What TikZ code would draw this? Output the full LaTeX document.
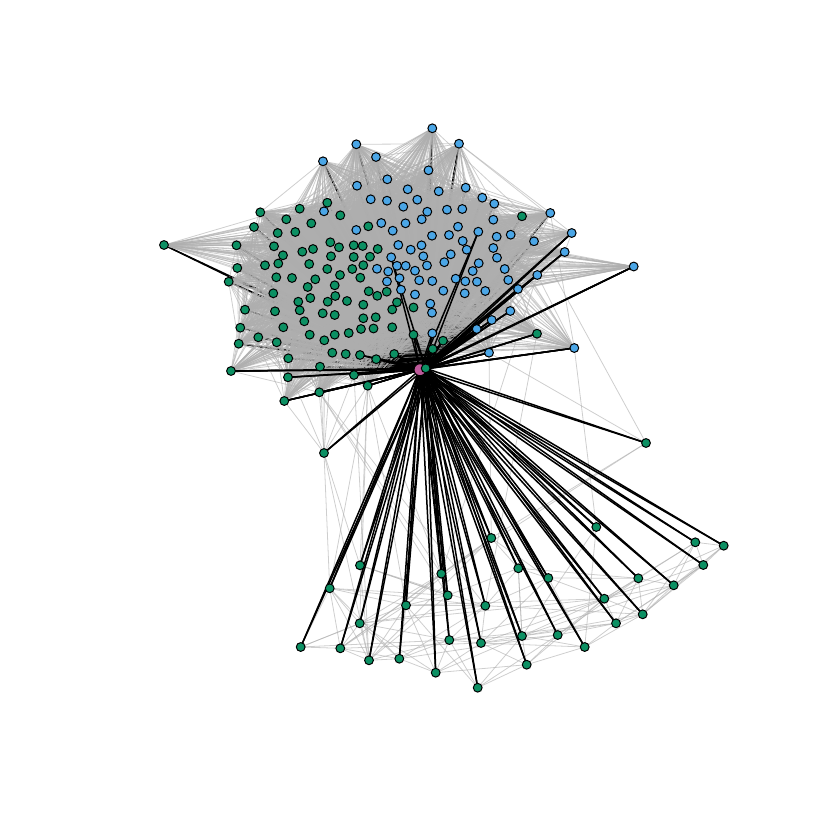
\documentclass[tikz,border=0pt]{standalone}
\usetikzlibrary{backgrounds}
\definecolor{nb}{HTML}{4BA6E6}
\definecolor{ng}{HTML}{0C9063}
\definecolor{nm}{HTML}{BD5A9A}
\definecolor{eg}{HTML}{AEAEAE}
\tikzset{
  B/.style={circle,draw=black,line width=1pt,fill=nb,minimum size=8.8pt,inner sep=0pt},
  G/.style={circle,draw=black,line width=1pt,fill=ng,minimum size=8.8pt,inner sep=0pt},
  M/.style={circle,draw=black,line width=1pt,fill=nm,minimum size=12pt,inner sep=0pt},
  ge/.style={draw=eg,line width=0.8pt,draw opacity=0.6},
  le/.style={draw=eg,line width=0.8pt,draw opacity=0.6},
  be/.style={draw=black,line width=1.4pt},
  te/.style={draw=black,line width=1.5pt}
}
\newcommand{\NU}{0}
\newcount\ucount
\begin{document}
\begin{tikzpicture}[x=1pt,y=-1pt]
\useasboundingbox (0,0) rectangle (840,840);
\pgfmathsetseed{4242}
% upper group: x/y/style/weight
\foreach \x/\y/\k/\w in {
478.3/231.7/B/60,391.2/257.3/B/60,633.7/266.5/B/0,574.3/348/B/30,537/333.7/G/30,489/352.7/B/30,
476.7/329/B/45,491.7/320/B/45,510.3/311/B/40,518/289/B/50,537.3/275/B/35,564.7/252/B/30,571.7/233/B/30,
231/371/G/35,284.3/401/G/35,288/377.3/G/40,319.3/392.3/G/40,354/375/G/40,367.7/385.7/G/35,
432.7/349/G/30,443/340.7/G/30,432.3/333.3/B/40,413.5/334.7/G/40,394.2/354/G/40,376.2/359.2/G/40,360/355/G/50,
164/245/G/0,522/216.3/G/35,
323/161.3/B/45,356.3/144.3/B/50,376/157/B/55,387.3/179.3/B/60,357/185.7/B/60,370.7/199.3/B/60,387/200.7/B/60,
407.7/189.3/B/60,403.3/206.7/B/60,417.3/199.7/B/60,428.5/170.3/B/60,324/211.3/B/60,381.3/223/B/60,405.5/223.3/B/60,
421.7/219.3/B/60,427.3/211.7/B/60,392.7/230.7/B/60,356.3/230/B/60,398.3/245/B/60,410.7/249.7/B/60,421.5/245.3/B/60,
423.3/256.3/B/60,432.3/128.3/B/50,459/143.7/B/50,438.7/191.3/B/60,465.7/187.7/B/60,482.3/197.7/B/60,494.3/203.7/B/60,
550.3/213/B/40,447/209.7/B/60,462.3/209/B/60,493.3/219.7/B/60,458/226.7/B/60,432/235.7/B/60,449/235/B/60,
496.7/236.7/B/60,510.7/234.7/B/60,534/241.3/B/45,462.7/241/B/60,493.3/248/B/60,466.7/249.7/B/60,497/257.7/B/60,
450.7/254.3/B/60,444.3/262.2/B/60,478.7/263.2/B/60,397/265.8/B/60,405.7/265.8/B/60,427/265.5/B/60,377/268.8/B/60,
388.2/271.5/B/60,415/270.7/B/60,399.5/278.2/B/60,419.2/280.3/B/60,387/281.5/B/60,401/289.7/B/60,415/294.5/B/60,
504.7/269/B/50,508.3/280/B/50,472.7/271/B/60,432.3/281/B/60,455.7/278.7/B/60,465.3/281.3/B/60,477/281.7/B/60,
485.3/291/B/60,443.3/290.7/B/60,464.7/293.3/B/60,430.3/303.7/B/60,432/312.7/B/50,
260.3/212.3/G/45,254/227/G/45,236.5/245.3/G/40,286.3/219.3/G/55,299.7/208.7/G/55,327.3/202.7/G/55,340.3/215.3/G/60,
311.3/223.3/G/60,277.7/233/G/60,295.3/232/G/60,368.3/226.3/G/60,274/246.3/G/60,330.3/242.3/G/60,339/247.3/G/60,
353.7/245.3/G/60,362.7/246/G/60,313/249/G/60,302.3/251.7/G/60,283/255.3/G/60,331/256.3/G/60,353.7/257/G/60,
370/256.7/G/60,377.7/249/G/60,278.3/263.5/G/60,265/265.3/G/60,309.2/264/G/60,363.3/265.2/G/60,237.3/268/G/40,
228.7/281.7/G/35,276.3/277.3/G/60,292/278/G/60,327.3/269/G/60,352.3/269/G/60,340/275/G/60,315.3/279.3/G/60,
360.3/277.7/G/60,307.7/287/G/60,334.7/285.3/G/60,273.3/293.3/G/60,368.7/291.3/G/60,377.3/295.8/G/60,386.7/291.7/G/60,
310.3/298/G/60,335.3/296/G/60,298.3/301.7/G/60,327.7/301.7/G/60,347/301/G/60,363.3/304.7/G/60,397/302.3/G/60,
392.2/309.5/G/60,413.5/307.5/G/50,245/309.7/G/45,275/311.3/G/60,299.7/310.3/G/60,322.7/313.3/G/60,334.7/315/G/60,
363.3/318.3/G/60,375.7/317.3/G/60,304.3/321.3/G/60,240.3/327.7/G/45,283.3/327.3/G/60,361/329/G/60,373.5/328.5/G/60,
392.2/327.3/G/60,309.7/334.7/G/60,334.7/334.7/G/60,348.7/333/G/60,258.3/337.3/G/50,324.3/340.3/G/60,276.7/342.3/G/55,
238.7/343.7/G/40,332.3/352.7/G/55,345.7/354/G/55,288.3/358.3/G/50,320/366.7/G/50}{
  \global\advance\ucount by 1
  \node[\k] (u\the\ucount) at (\x,\y) {};
  \expandafter\xdef\csname W\the\ucount\endcsname{\w}
  \expandafter\xdef\csname X\the\ucount\endcsname{\the\numexpr\dimexpr\x pt\relax/65536\relax}
  \expandafter\xdef\csname Y\the\ucount\endcsname{\the\numexpr\dimexpr\y pt\relax/65536\relax}
}
\xdef\NU{\the\ucount}
% lower group
\foreach \x/\y [count=\c] in {300.7/647,340.3/648.3,369/660.3,399.3/658.7,435.7/672.7,477.7/687.7,526.7/664.7,584.7/647,
557.7/635,522/636,481/643,449.3/640,359.7/623.3,406/605.3,447.7/595.3,485.3/605.7,329.7/588.3,360/565.3,441.3/573.7,
491.3/538,518.3/568.3,548.3/578,604.3/598.7,616/623.3,642.7/614.3,638.3/578.3,673.7/585.3,703.3/565,695.3/542.3,723.7/545.7,596.3/527}{
  \node[G] (L\c) at (\x,\y) {};
}
\node[G] (ma) at (324,453) {};
\node[G] (mb) at (646,443) {};
\node[M] (sat) at (420,369.7) {};
\node[G] (hub) at (425.7,368.3) {};
\begin{pgfonlayer}{background}
  % black spokes, upper group, under the grey mass
  \foreach \i in {1,...,\NU}{
    \draw[be] (hub.center) -- (u\i.center);
    \draw[be] (sat.center) -- (u\i.center);
  }
  % grey mass
  \foreach \i in {1,...,\NU}{
    \pgfmathtruncatemacro{\st}{\i+1}
    \ifnum\i<\NU
    \foreach \j in {\st,...,\NU}{
      \pgfmathrandominteger{\r}{0}{9999}
      \ifnum\r<\numexpr\csname W\i\endcsname*\csname W\j\endcsname*16/10\relax
        \draw[ge] (u\i.center) -- (u\j.center);
      \fi
    }
    \fi
  }
  % narrow fans of the two far nodes
  \foreach \j in {1,...,\NU}{
    \pgfmathrandominteger{\r}{0}{99}
    \ifnum\r<45
      \pgfmathtruncatemacro{\dx}{634-\csname X\j\endcsname}
      \pgfmathtruncatemacro{\dy}{abs(266-\csname Y\j\endcsname)*5}
      \ifnum\dx>0 \ifnum\dy<\dx
        \draw[ge] (u3.center) -- (u\j.center);
      \fi\fi
      \pgfmathtruncatemacro{\dx}{\csname X\j\endcsname-164}
      \pgfmathtruncatemacro{\dy}{abs(245-\csname Y\j\endcsname)*3}
      \ifnum\dx>0 \ifnum\dy<\dx
        \draw[ge] (u27.center) -- (u\j.center);
      \fi\fi
    \fi
    \ifnum\csname Y\j\endcsname>335 \ifnum\csname X\j\endcsname<400 \ifnum\csname X\j\endcsname>250
      \ifnum\r<60 \draw[ge] (ma.center) -- (u\j.center); \fi
    \fi\fi\fi
  }
  % lower group mesh
  \foreach \a/\b in {1/2,1/13,1/14,1/12,1/17,2/17,2/13,2/3,2/14,2/4,2/19,2/11,3/13,3/4,3/14,3/17,3/18,3/12,3/15,3/20,
    4/13,4/5,4/14,4/12,4/17,4/16,4/9,5/12,5/11,5/7,5/10,5/13,5/14,6/12,6/10,6/7,6/9,6/14,7/11,7/8,7/9,7/23,7/10,
    8/10,8/24,8/25,8/11,9/23,9/24,9/11,9/26,10/24,10/23,10/12,10/25,10/11,10/21,10/27,11/12,11/23,11/16,11/22,
    12/16,12/23,12/24,12/13,13/16,13/17,13/23,13/19,14/16,14/23,14/20,14/15,14/17,15/18,15/21,16/18,16/22,16/25,16/21,
    17/16,17/15,18/15,19/20,19/14,20/21,20/22,20/2,21/26,21/22,21/10,22/26,22/23,22/8,23/24,23/25,23/27,23/28,23/29,23/30,23/26,
    24/25,24/27,24/26,24/28,25/27,25/26,25/28,25/30,25/29,26/27,26/29,27/28,27/29,27/30,28/29,28/30,29/30,31/8,31/10}{
    \draw[le] (L\a.center) -- (L\b.center);
  }
  % connections between the groups
  \foreach \a/\b in {19/18,19/13,19/14,19/17,19/19,17/19,17/15,17/16,18/3,4/31,5/16,11/19,6/20}{
    \draw[le] (u\a.center) -- (L\b.center);
  }
  \foreach \b in {17,3,18}{\draw[le] (ma.center) -- (L\b.center);}
  \draw[le] (mb.center) -- (u6.center);
  \draw[le] (mb.center) -- (u28.center);
  \draw[le] (mb.center) -- (L20.center);
  \draw[le] (mb.center) -- (L19.center);
  % black spokes on top
  \foreach \i in {1,...,26}{
    \draw[te] (hub.center) -- (u\i.center);
    \draw[te] (sat.center) -- (u\i.center);
  }
  \foreach \i in {1,...,31}{
    \draw[te] (hub.center) -- (L\i.center);
    \draw[te] (sat.center) -- (L\i.center);
  }
  \draw[te] (hub.center) -- (ma.center);
  \draw[te] (sat.center) -- (ma.center);
  \draw[te] (hub.center) -- (mb.center);
  \draw[te] (sat.center) -- (mb.center);
\end{pgfonlayer}
\end{tikzpicture}
\end{document}
